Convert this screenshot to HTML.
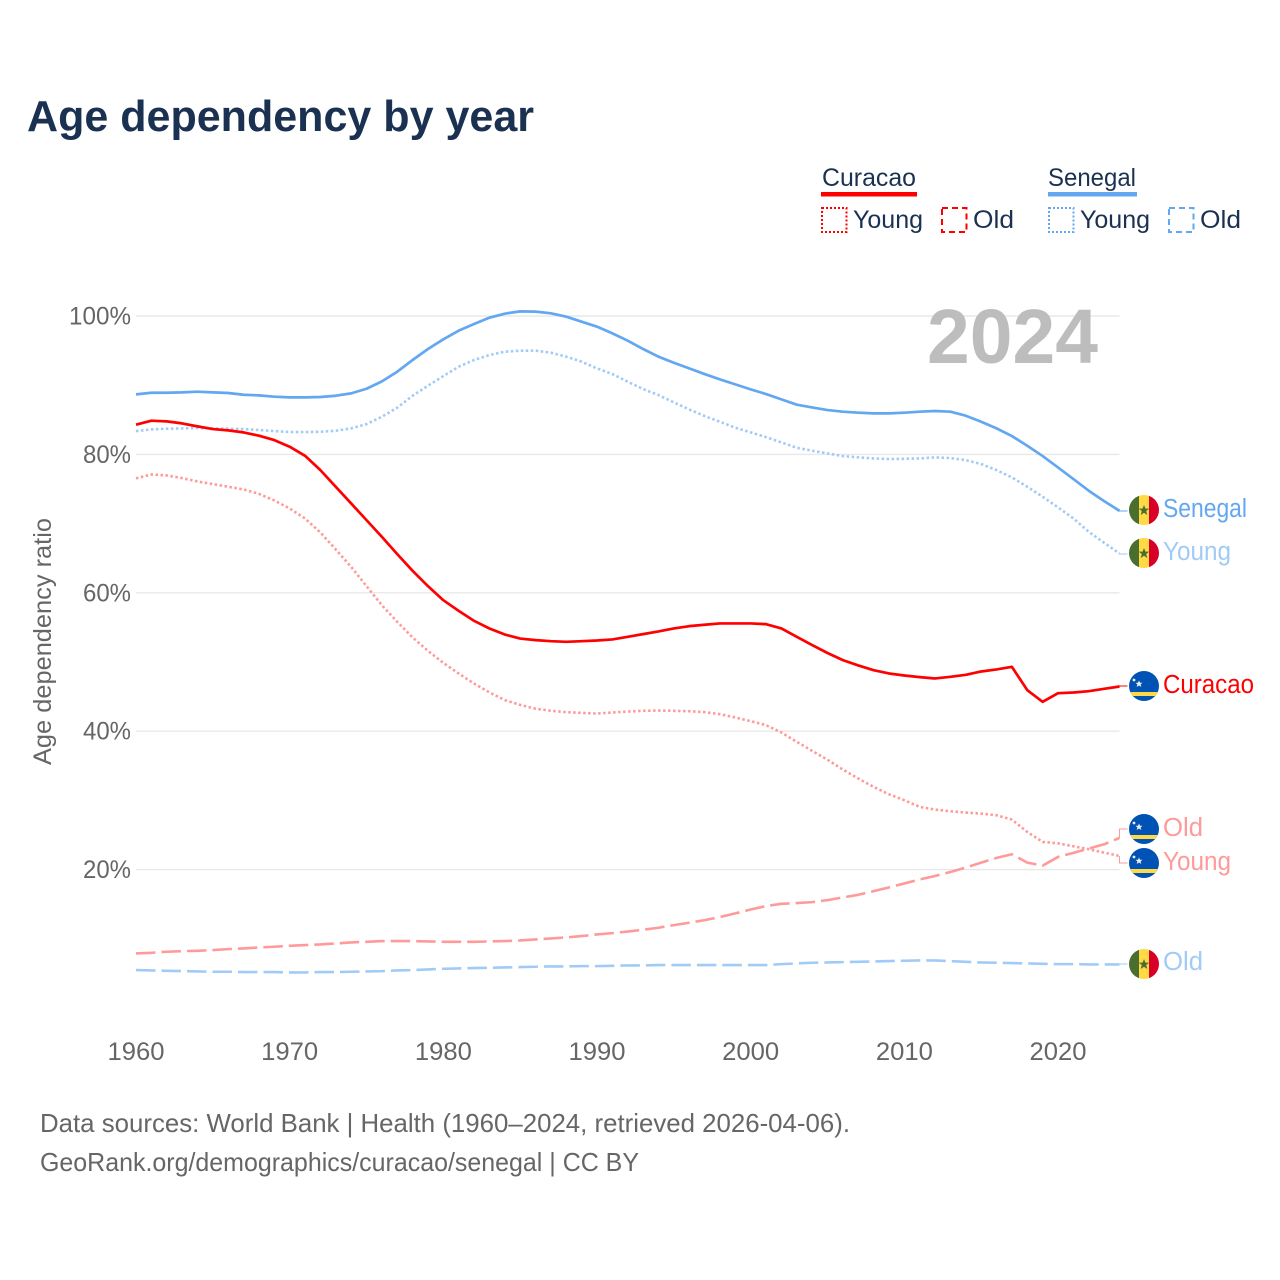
<!DOCTYPE html>
<html lang="en">
<head>
<meta charset="utf-8">
<title>Age dependency by year</title>
<style>
html,body{margin:0;padding:0;background:#fff}
svg{display:block}
text{font-family:"Liberation Sans",sans-serif}
</style>
</head>
<body>
<svg id="chart" xmlns="http://www.w3.org/2000/svg" width="1280" height="1280" viewBox="0 0 1280 1280">
<defs>
<clipPath id="flag-clip"><circle cx="0" cy="0" r="15"/></clipPath>
<g id="flag-sn">
<g clip-path="url(#flag-clip)">
<rect x="-15" y="-15" width="10" height="30" fill="#496e2d"/>
<rect x="-5" y="-15" width="10" height="30" fill="#ffda44"/>
<rect x="5" y="-15" width="10" height="30" fill="#d80027"/>
</g>
<polygon points="0,-5 1.4,-1.4 5.3,-1.4 2.2,1 3.3,5 0,2.7 -3.3,5 -2.2,1 -5.3,-1.4 -1.4,-1.4" fill="#496e2d"/>
</g>
<g id="flag-cw">
<g clip-path="url(#flag-clip)">
<rect x="-15" y="-15" width="30" height="30" fill="#0052b4"/>
<rect x="-15" y="6" width="30" height="4" fill="#ffda44"/>
</g>
<polygon points="-5,-5.5 -4,-3.2 -1.5,-3.2 -3.4,-1.6 -2.7,1 -5,-0.5 -7.3,1 -6.6,-1.6 -8.5,-3.2 -6,-3.2" fill="#f0f0f0"/>
<circle cx="-10" cy="-6" r="1.4" fill="#f0f0f0"/>
</g>
</defs>

<text x="27" y="131" font-size="44" font-weight="700" fill="#1a3152" textLength="507" lengthAdjust="spacingAndGlyphs">Age dependency by year</text>

<g>
<text x="822" y="186" font-size="25" fill="#1a3152" textLength="94" lengthAdjust="spacingAndGlyphs">Curacao</text>
<rect x="821" y="192" width="96" height="4.5" fill="#ff0000"/>
<text x="1048" y="186" font-size="25" fill="#1a3152" textLength="88" lengthAdjust="spacingAndGlyphs">Senegal</text>
<rect x="1048" y="192" width="89" height="4.5" fill="#63a7f0"/>
<rect x="822" y="208" width="24.5" height="24" fill="none" stroke="#ff0000" stroke-width="2" stroke-dasharray="2 2"/>
<text x="853" y="228" font-size="25" fill="#1a3152" textLength="70" lengthAdjust="spacingAndGlyphs">Young</text>
<rect x="942" y="208" width="24.5" height="24" fill="none" stroke="#ff0000" stroke-width="2" stroke-dasharray="6 4"/>
<text x="973" y="228" font-size="25" fill="#1a3152" textLength="41" lengthAdjust="spacingAndGlyphs">Old</text>
<rect x="1049" y="208" width="24.5" height="24" fill="none" stroke="#63a7f0" stroke-width="2" stroke-dasharray="2 2"/>
<text x="1080" y="228" font-size="25" fill="#1a3152" textLength="70" lengthAdjust="spacingAndGlyphs">Young</text>
<rect x="1169" y="208" width="24.5" height="24" fill="none" stroke="#63a7f0" stroke-width="2" stroke-dasharray="6 4"/>
<text x="1200" y="228" font-size="25" fill="#1a3152" textLength="41" lengthAdjust="spacingAndGlyphs">Old</text>
</g>

<g id="grid"></g>
<g id="yticks"></g>
<g id="xticks"></g>

<text transform="translate(51,765) rotate(-90)" font-size="25" fill="#666666" textLength="247" lengthAdjust="spacingAndGlyphs">Age dependency ratio</text>

<text x="927" y="363" font-size="77" font-weight="700" fill="#bdbdbd" textLength="171" lengthAdjust="spacingAndGlyphs">2024</text>

<g id="series"></g>

<g>
<use href="#flag-sn" x="1144" y="510"/>
<text x="1163" y="517" font-size="25.5" fill="#63a7f0" textLength="84" lengthAdjust="spacingAndGlyphs">Senegal</text>
<use href="#flag-sn" x="1144" y="553"/>
<text x="1163" y="560" font-size="25.5" fill="#a1cbf7" textLength="68" lengthAdjust="spacingAndGlyphs">Young</text>
<use href="#flag-cw" x="1144" y="686"/>
<text x="1163" y="693" font-size="25.5" fill="#ff0000" textLength="91" lengthAdjust="spacingAndGlyphs">Curacao</text>
<use href="#flag-cw" x="1144" y="829"/>
<text x="1163" y="836" font-size="25.5" fill="#ff9a9a" textLength="40" lengthAdjust="spacingAndGlyphs">Old</text>
<use href="#flag-cw" x="1144" y="863"/>
<text x="1163" y="870" font-size="25.5" fill="#ff9a9a" textLength="68" lengthAdjust="spacingAndGlyphs">Young</text>
<use href="#flag-sn" x="1144" y="964"/>
<text x="1163" y="970" font-size="25.5" fill="#a1cbf7" textLength="40" lengthAdjust="spacingAndGlyphs">Old</text>
</g>

<text x="40" y="1132" font-size="26" fill="#666666" textLength="810" lengthAdjust="spacingAndGlyphs">Data sources: World Bank | Health (1960–2024, retrieved 2026-04-06).</text>
<text x="40" y="1171" font-size="26" fill="#666666" textLength="599" lengthAdjust="spacingAndGlyphs">GeoRank.org/demographics/curacao/senegal | CC BY</text>
</svg>

<script>
const years = [1960,1961,1962,1963,1964,1965,1966,1967,1968,1969,1970,1971,1972,1973,1974,1975,1976,1977,1978,1979,1980,1981,1982,1983,1984,1985,1986,1987,1988,1989,1990,1991,1992,1993,1994,1995,1996,1997,1998,1999,2000,2001,2002,2003,2004,2005,2006,2007,2008,2009,2010,2011,2012,2013,2014,2015,2016,2017,2018,2019,2020,2021,2022,2023,2024];
const senegalTotal = [88.67,88.91,88.91,88.96,89.06,88.96,88.87,88.62,88.53,88.34,88.24,88.24,88.29,88.48,88.82,89.49,90.55,91.95,93.64,95.23,96.63,97.88,98.84,99.76,100.34,100.67,100.63,100.39,99.9,99.18,98.46,97.49,96.43,95.23,94.12,93.25,92.43,91.61,90.84,90.12,89.4,88.72,87.95,87.18,86.79,86.41,86.17,86.03,85.93,85.93,86.03,86.17,86.27,86.17,85.59,84.72,83.76,82.65,81.25,79.76,78.12,76.43,74.75,73.25,71.85];
const senegalYoung = [83.37,83.61,83.71,83.76,83.8,83.76,83.71,83.66,83.52,83.37,83.23,83.23,83.27,83.42,83.76,84.38,85.44,86.75,88.48,89.93,91.32,92.67,93.64,94.36,94.84,94.99,94.99,94.7,94.12,93.4,92.43,91.61,90.5,89.44,88.58,87.52,86.5,85.54,84.72,83.85,83.18,82.5,81.73,80.96,80.53,80.14,79.76,79.57,79.42,79.33,79.37,79.42,79.57,79.47,79.18,78.6,77.73,76.67,75.32,73.88,72.34,70.75,68.82,67.23,65.68];
const senegalOld = [5.48,5.43,5.38,5.33,5.28,5.24,5.24,5.19,5.19,5.19,5.14,5.14,5.19,5.19,5.24,5.28,5.33,5.43,5.48,5.57,5.67,5.72,5.77,5.81,5.86,5.91,5.96,6.01,6.01,6.05,6.05,6.1,6.15,6.15,6.2,6.2,6.2,6.2,6.2,6.2,6.2,6.2,6.34,6.44,6.54,6.58,6.63,6.68,6.73,6.78,6.83,6.87,6.87,6.78,6.68,6.58,6.54,6.49,6.44,6.39,6.34,6.34,6.3,6.3,6.3];
const curacaoTotal = [84.29,84.87,84.77,84.48,84.05,83.66,83.47,83.18,82.7,82.07,81.11,79.8,77.73,75.32,72.91,70.5,68.09,65.59,63.18,60.96,58.93,57.39,55.95,54.84,53.97,53.39,53.16,53.01,52.92,53.01,53.11,53.26,53.64,54.03,54.41,54.85,55.18,55.38,55.57,55.57,55.57,55.47,54.85,53.64,52.44,51.3,50.27,49.5,48.82,48.34,48.05,47.81,47.62,47.86,48.15,48.63,48.92,49.3,45.93,44.24,45.49,45.59,45.78,46.12,46.46];
const curacaoYoung = [76.53,77.1,76.96,76.57,76.09,75.71,75.32,74.94,74.3,73.35,72.19,70.74,68.72,66.26,63.75,60.96,58.21,55.8,53.54,51.61,49.87,48.33,46.88,45.6,44.5,43.8,43.25,42.95,42.75,42.65,42.55,42.7,42.84,42.94,42.99,42.94,42.89,42.75,42.46,41.98,41.45,40.87,39.81,38.46,37.16,35.88,34.46,33.16,31.95,30.89,30.02,29.06,28.67,28.43,28.24,28.09,27.85,27.23,25.44,24.0,23.8,23.37,22.94,22.46,21.97];
const curacaoOld = [7.89,7.98,8.13,8.22,8.27,8.37,8.51,8.61,8.75,8.85,8.99,9.09,9.19,9.33,9.48,9.57,9.67,9.67,9.67,9.62,9.57,9.57,9.57,9.62,9.67,9.76,9.91,10.05,10.2,10.39,10.63,10.82,11.04,11.31,11.6,11.98,12.32,12.7,13.14,13.67,14.24,14.73,15.06,15.16,15.3,15.59,15.98,16.36,16.89,17.42,18.0,18.58,19.08,19.66,20.29,21.01,21.69,22.22,21.01,20.58,21.83,22.41,23.04,23.66,24.58];
const yTickValues = [20,40,60,80,100];
const yTickLabels = ["20%","40%","60%","80%","100%"];
const xTickValues = [1960,1970,1980,1990,2000,2010,2020];
const xTickLabels = ["1960","1970","1980","1990","2000","2010","2020"];

const NS = 'http://www.w3.org/2000/svg';
const xScale = yr => 136 + (yr - 1960) * 15.367;
const yScale = v => 316 + (100 - v) * 6.92;

const gridG = document.getElementById('grid');
const yG = document.getElementById('yticks');
const xG = document.getElementById('xticks');
const seriesG = document.getElementById('series');

yTickValues.forEach((v, i) => {
  const line = document.createElementNS(NS, 'line');
  
  
  line.setAttribute('x1', xScale(1960));
  line.setAttribute('x2', xScale(2024));
  line.setAttribute('y1', yScale(v));
  line.setAttribute('y2', yScale(v));
  line.setAttribute('stroke', '#e8e8e8');
  line.setAttribute('stroke-width', '1.4');
  gridG.appendChild(line);

  const t = document.createElementNS(NS, 'text');
  
  
  t.setAttribute('x', 131);
  t.setAttribute('y', yScale(v) + 8.5);
  t.setAttribute('text-anchor', 'end');
  t.setAttribute('font-size', '25');
  t.setAttribute('fill', '#666666');
  t.setAttribute('textLength', yTickLabels[i].length > 3 ? 62 : 48);
  t.setAttribute('lengthAdjust', 'spacingAndGlyphs');
  t.textContent = yTickLabels[i];
  yG.appendChild(t);
});

xTickValues.forEach((yr, i) => {
  const t = document.createElementNS(NS, 'text');
  
  
  t.setAttribute('x', xScale(yr));
  t.setAttribute('y', 1060);
  t.setAttribute('text-anchor', 'middle');
  t.setAttribute('font-size', '25');
  t.setAttribute('fill', '#666666');
  t.setAttribute('textLength', 57);
  t.setAttribute('lengthAdjust', 'spacingAndGlyphs');
  t.textContent = xTickLabels[i];
  xG.appendChild(t);
});

function drawSeries(values, seriesName, color, dash, width, flagY) {
  const d = values.map((v, i) => (i ? 'L' : 'M') + xScale(years[i]).toFixed(2) + ' ' + yScale(v).toFixed(2)).join(' ');
  const p = document.createElementNS(NS, 'path');
  
  
  p.setAttribute('d', d);
  p.setAttribute('fill', 'none');
  p.setAttribute('stroke', color);
  p.setAttribute('stroke-width', width);
  p.setAttribute('stroke-linejoin', 'round');
  if (dash) p.setAttribute('stroke-dasharray', dash);
  seriesG.appendChild(p);

  const endX = xScale(years[years.length - 1]);
  const endY = yScale(values[values.length - 1]);
  const c = document.createElementNS(NS, 'path');
  
  
  c.setAttribute('d', 'M' + endX + ' ' + endY + ' L' + endX + ' ' + flagY + ' L' + (endX + 8) + ' ' + flagY);
  c.setAttribute('fill', 'none');
  c.setAttribute('stroke', color);
  c.setAttribute('stroke-width', '1');
  seriesG.appendChild(c);
}

drawSeries(senegalOld, 'line-senegal-old', '#a1cbf7', '19.5 6', 2.6, 964);
drawSeries(curacaoOld, 'line-curacao-old', '#ff9a9a', '19.5 6', 2.6, 829);
drawSeries(senegalYoung, 'line-senegal-young', '#a1cbf7', '2.5 2.5', 2.6, 554);
drawSeries(curacaoYoung, 'line-curacao-young', '#ff9a9a', '2.5 2.5', 2.6, 863);
drawSeries(senegalTotal, 'line-senegal-total', '#63a7f0', null, 2.7, 511);
drawSeries(curacaoTotal, 'line-curacao-total', '#ff0000', null, 2.7, 686);
</script>
</body>
</html>
